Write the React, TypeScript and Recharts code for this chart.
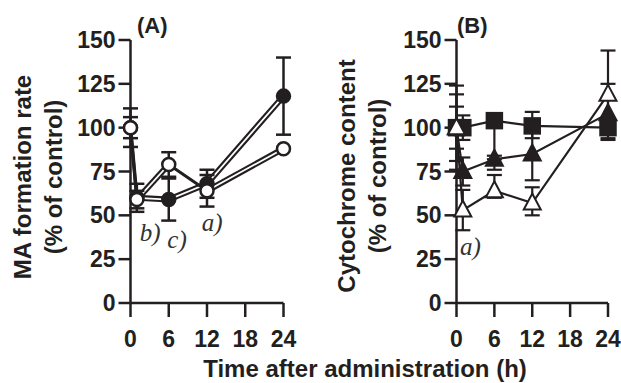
import React from 'react';
import { LineChart, Line, XAxis, YAxis, ErrorBar, ReferenceDot } from 'recharts';

const INK = '#231f20';
const SANS = '"Liberation Sans", Arial, Helvetica, sans-serif';
const SERIF = '"Liberation Serif", "Times New Roman", serif';

// ---------- Panel A : MA formation rate ----------
const timesA = [0, 1, 6, 12, 24];
const maFilled = [100, 60, 59, 68, 118];
const maFilledErr = [6, 8, 12, 8, 22];
const maOpen = [100, 59, 79, 64, 88];
const maOpenErr = [11, 5, 7, 9, 0];
// segments drawn as double (outlined) lines: [fromIndex, toIndex]
const filledOutlined = [[1, 4]];
const openOutlined = [[1, 2], [3, 4]];

// ---------- Panel B : Cytochrome content ----------
const timesB = [0, 1, 6, 12, 24];
const sqFilled = [100, 100, 104, 101, 100];
const sqFilledErr = [[12, 12], [7, 7], [20, 0], [7, 8], [4, 4]];
const triFilled = [100, 75, 82, 85, 108];
const triFilledErr = [[24, 24], [8, 8], [6, 0], [15, 15], [15, 17]];
const triOpen = [100, 53, 64, 57, 119];
const triOpenErr = [[19, 19], [11.5, 11.5], [4, 9], [7, 9], [25, 25]];

const xTicks = [0, 6, 12, 18, 24];
const yTicks = [0, 25, 50, 75, 100, 125, 150];

const segVal = (vals: number[], seg: number[], i: number) =>
  i >= seg[0] && i <= seg[1] ? vals[i] : null;

const rowsA = timesA.map((t, i) => {
  const r: any = { t, filled: maFilled[i], filledErr: maFilledErr[i], open: maOpen[i], openErr: maOpenErr[i] };
  filledOutlined.forEach((s, k) => (r['fSeg' + k] = segVal(maFilled, s, i)));
  openOutlined.forEach((s, k) => (r['oSeg' + k] = segVal(maOpen, s, i)));
  return r;
});

const rowsB = timesB.map((t, i) => ({
  t,
  sq: sqFilled[i], sqErr: sqFilledErr[i],
  tf: triFilled[i], tfErr: triFilledErr[i],
  to: triOpen[i], toErr: triOpenErr[i],
}));

const tickStyle = { fontSize: 23, fontWeight: 700, fill: INK, fontFamily: SANS };

const FilledCircle = (p: any) => <circle cx={p.cx} cy={p.cy} r={6.5} fill={INK} stroke={INK} strokeWidth={2.5} />;
const OpenCircle = (p: any) => <circle cx={p.cx} cy={p.cy} r={6.5} fill="#fff" stroke={INK} strokeWidth={2.5} />;
const Square = (p: any) => <rect x={p.cx - 8} y={p.cy - 8} width={16} height={16} fill={INK} stroke={INK} strokeWidth={1.5} />;
const Tri = (p: any) => (
  <path
    d={`M${p.cx},${p.cy - 9.5} L${p.cx + 8.5},${p.cy + 6.5} L${p.cx - 8.5},${p.cy + 6.5} Z`}
    fill={p.open ? '#fff' : INK}
    stroke={INK}
    strokeWidth={2}
    strokeLinejoin="miter"
  />
);

const Anno = (props: any) => {
  const vb = props.viewBox || {};
  const x = (vb.x ?? 0) + (vb.width ?? 0) / 2;
  const y = (vb.y ?? 0) + (vb.height ?? 0) / 2;
  return (
    <text x={x} y={y} textAnchor="middle" dominantBaseline="central" fontFamily={SERIF} fontStyle="italic" fontSize={25} fill="#333">
      {props.text}
    </text>
  );
};

const axisCommon = {
  stroke: INK,
  strokeWidth: 2.5,
  tick: tickStyle,
};

const bold: React.CSSProperties = { fontFamily: SANS, fontWeight: 700, color: INK, position: 'absolute', whiteSpace: 'nowrap' };

export default function App() {
  return (
    <div style={{ position: 'absolute', left: 0, top: 0, width: 621, height: 383, background: '#fff', overflow: 'hidden' }}>
      {/* Panel A */}
      <div style={{ position: 'absolute', left: 0, top: 0 }}>
        <LineChart width={310} height={383} data={rowsA} margin={{ top: 40, right: 26.5, bottom: 0, left: 0 }}>
          <XAxis dataKey="t" type="number" domain={[0, 24]} ticks={xTicks} interval={0} tickSize={14} tickMargin={14} height={80} {...axisCommon} />
          <YAxis type="number" domain={[0, 150]} ticks={yTicks} interval={0} tickSize={12} tickMargin={3} width={130.5} {...axisCommon} />
          <Line dataKey="filled" stroke={INK} strokeWidth={3.5} dot={false} activeDot={false} isAnimationActive={false} />
          {filledOutlined.map((_, k) => (
            <Line key={'fo' + k} dataKey={'fSeg' + k} stroke={INK} strokeWidth={6} dot={false} activeDot={false} isAnimationActive={false} />
          ))}
          {filledOutlined.map((_, k) => (
            <Line key={'fw' + k} dataKey={'fSeg' + k} stroke="#fff" strokeWidth={1.8} dot={false} activeDot={false} isAnimationActive={false} />
          ))}
          <Line dataKey="open" stroke={INK} strokeWidth={3} dot={false} activeDot={false} isAnimationActive={false} />
          {openOutlined.map((_, k) => (
            <Line key={'oo' + k} dataKey={'oSeg' + k} stroke={INK} strokeWidth={6} dot={false} activeDot={false} isAnimationActive={false} />
          ))}
          {openOutlined.map((_, k) => (
            <Line key={'ow' + k} dataKey={'oSeg' + k} stroke="#fff" strokeWidth={1.8} dot={false} activeDot={false} isAnimationActive={false} />
          ))}
          <Line dataKey="filled" stroke="none" activeDot={false} isAnimationActive={false}
            dot={(p: any) => <FilledCircle key={'fc' + p.index} cx={p.cx} cy={p.cy} />}>
            <ErrorBar dataKey="filledErr" direction="y" width={7.5} stroke={INK} strokeWidth={2.5} />
          </Line>
          <Line dataKey="open" stroke="none" activeDot={false} isAnimationActive={false}
            dot={(p: any) => <OpenCircle key={'oc' + p.index} cx={p.cx} cy={p.cy} />}>
            <ErrorBar dataKey="openErr" direction="y" width={7.5} stroke={INK} strokeWidth={2.5} />
          </Line>
          <ReferenceDot x={3.1} y={40} r={0} fill="none" stroke="none" label={<Anno text="b)" />} />
          <ReferenceDot x={7.3} y={36} r={0} fill="none" stroke="none" label={<Anno text="c)" />} />
          <ReferenceDot x={12.8} y={46} r={0} fill="none" stroke="none" label={<Anno text="a)" />} />
        </LineChart>
      </div>

      {/* Panel B */}
      <div style={{ position: 'absolute', left: 310, top: 0 }}>
        <LineChart width={311} height={383} data={rowsB} margin={{ top: 40, right: 13, bottom: 0, left: 0 }}>
          <XAxis dataKey="t" type="number" domain={[0, 24]} ticks={xTicks} interval={0} tickSize={14} tickMargin={14} height={80} {...axisCommon} />
          <YAxis type="number" domain={[0, 150]} ticks={yTicks} interval={0} tickSize={12} tickMargin={3} width={146.5} {...axisCommon} />
          <Line dataKey="sq" stroke={INK} strokeWidth={2.2} activeDot={false} isAnimationActive={false}
            dot={(p: any) => <Square key={'sq' + p.index} cx={p.cx} cy={p.cy} />}>
            <ErrorBar dataKey="sqErr" direction="y" width={7.5} stroke={INK} strokeWidth={2.2} />
          </Line>
          <Line dataKey="tf" stroke={INK} strokeWidth={2.2} activeDot={false} isAnimationActive={false}
            dot={(p: any) => <Tri key={'tf' + p.index} cx={p.cx} cy={p.cy} />}>
            <ErrorBar dataKey="tfErr" direction="y" width={7.5} stroke={INK} strokeWidth={2.2} />
          </Line>
          <Line dataKey="to" stroke={INK} strokeWidth={2.2} activeDot={false} isAnimationActive={false}
            dot={(p: any) => <Tri key={'to' + p.index} cx={p.cx} cy={p.cy} open />}>
            <ErrorBar dataKey="toErr" direction="y" width={7.5} stroke={INK} strokeWidth={2.2} />
          </Line>
          <ReferenceDot x={2.2} y={32} r={0} fill="none" stroke="none" label={<Anno text="a)" />} />
        </LineChart>
      </div>

      {/* texts */}
      <div style={{ ...bold, fontSize: 22, left: 137, top: 13, lineHeight: '26px' }}>(A)</div>
      <div style={{ ...bold, fontSize: 22, left: 457, top: 13, lineHeight: '26px' }}>(B)</div>
      <div style={{ ...bold, fontSize: 24, lineHeight: '31px', textAlign: 'center', left: 38, top: 177, transform: 'translate(-50%, -50%) rotate(-90deg)' }}>
        MA formation rate<br />(% of control)
      </div>
      <div style={{ ...bold, fontSize: 24, lineHeight: '31px', textAlign: 'center', left: 362, top: 176, transform: 'translate(-50%, -50%) rotate(-90deg)' }}>
        Cytochrome content<br />(% of control)
      </div>
      <div style={{ ...bold, fontSize: 24, lineHeight: '26px', left: 365, top: 369, transform: 'translate(-50%, -50%)' }}>
        Time after administration (h)
      </div>
    </div>
  );
}
